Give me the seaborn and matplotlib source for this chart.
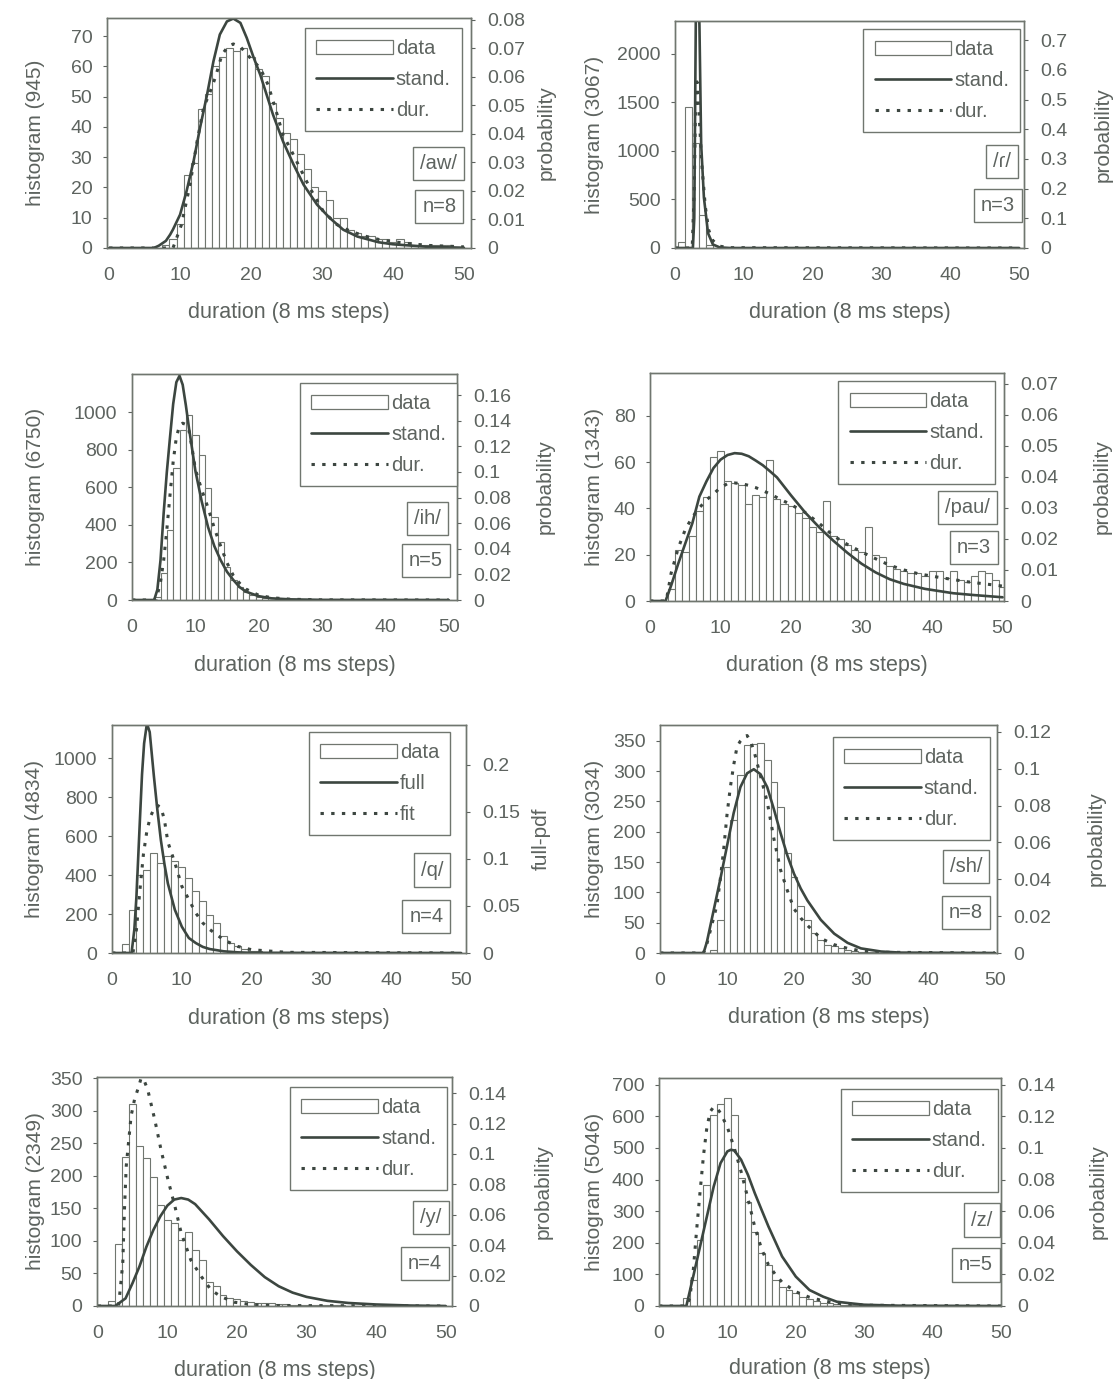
import numpy as np
import matplotlib
matplotlib.use("Agg")
import matplotlib.pyplot as plt
import matplotlib.patches as mpatches
from matplotlib.ticker import FuncFormatter
import seaborn as sns

sns.set_theme(style="white")
plt.rcParams["font.family"] = ["Liberation Sans", "DejaVu Sans"]

TXT = "#5d635f"
EDGE = "#70766f"
LINE = "#3c4640"

durations = np.arange(1, 51)

# ---- /aw/ (945) ----
aw_counts = [0, 0, 0, 0, 0, 0, 0, 1, 3, 8,
             24, 28, 46, 51, 60, 63, 66, 65, 66, 63,
             59, 57, 48, 43, 38, 36, 31, 26, 20, 19,
             16, 10, 10, 6, 5, 4, 4, 3, 3, 2,
             3, 2, 1, 1, 1, 1, 1, 1, 0, 0]
aw_stand_x = [0, 6.3, 7, 8, 8.6, 9, 10, 10.9, 11.9, 12.8, 13.8, 14.7, 15.6, 16.6, 17.5, 18.5,
              19.4, 20.3, 21.3, 22.2, 23.1, 24.5, 26, 27.4, 29.3, 31.1, 33, 35, 38, 40, 45, 50]
aw_stand_y = [0, 0, 0.0008, 0.0025, 0.0047, 0.0065, 0.0117, 0.0198, 0.0304, 0.042, 0.0537,
              0.0654, 0.0748, 0.0794, 0.0804, 0.0789, 0.0736, 0.0672, 0.0607, 0.0537, 0.0467,
              0.0374, 0.0292, 0.0222, 0.0152, 0.0105, 0.0064, 0.004, 0.002, 0.0013, 0.0004,
              0.0001]
aw_dur_x = [0, 9, 10.2, 11.4, 12.4, 13.3, 14.2, 15, 15.9, 16.8, 17.5, 18.5, 19.9, 21.3, 22.4,
            23.4, 24.5, 25.5, 26.9, 28.3, 30.2, 32.1, 33.9, 36, 38, 40, 42, 45, 50]
aw_dur_y = [0, 0, 0.0082, 0.0222, 0.0374, 0.0491, 0.0545, 0.06, 0.0678, 0.0707, 0.0715, 0.0705,
            0.0666, 0.063, 0.0572, 0.0491, 0.0397, 0.035, 0.028, 0.021, 0.0128, 0.0082, 0.006,
            0.0042, 0.003, 0.0022, 0.0016, 0.0009, 0.0004]

# ---- flap (3067) ----
dx_counts = [60, 1450, 1080, 340, 30, 5, 2, 0, 0, 0,
             0, 0, 0, 0, 0, 0, 0, 0, 0, 0,
             0, 0, 0, 0, 0, 0, 0, 0, 0, 0,
             0, 0, 0, 0, 0, 0, 0, 0, 0, 0,
             0, 0, 0, 0, 0, 0, 0, 0, 0, 0]
dx_stand_x = [0, 2.6, 2.8, 3.05, 3.3, 3.55, 3.8, 4.2, 4.8, 5.5, 6.5, 8, 50]
dx_stand_y = [0, 0, 0.1, 0.85, 0.95, 0.75, 0.35, 0.17, 0.05, 0.012, 0.002, 0, 0]
dx_dur_x = [0, 2.5, 2.8, 3.0, 3.2, 3.5, 3.9, 4.4, 4.9, 5.5, 6.5, 8, 50]
dx_dur_y = [0, 0, 0.2, 0.5, 0.56, 0.45, 0.28, 0.14, 0.06, 0.025, 0.006, 0.001, 0]

# ---- /ih/ (6750) ----
ih_counts = [0, 0, 0, 15, 142, 373, 702, 906, 986, 880,
             773, 595, 440, 311, 178, 107, 71, 44, 27, 18,
             12, 9, 6, 5, 4, 3, 2, 2, 1, 1,
             1, 1, 0, 0, 0, 0, 0, 0, 0, 0,
             0, 0, 0, 0, 0, 0, 0, 0, 0, 0]
ih_stand_x = [0, 3.5, 4, 4.5, 5, 5.5, 6, 6.5, 7, 7.5, 8, 8.5, 9, 10, 11, 12, 13, 14, 15, 16,
              17, 18, 20, 22, 25, 30, 50]
ih_stand_y = [0, 0, 0.008, 0.031, 0.068, 0.1, 0.127, 0.153, 0.17, 0.175, 0.168, 0.152, 0.134,
              0.101, 0.077, 0.057, 0.042, 0.031, 0.022, 0.0156, 0.01, 0.0065, 0.003, 0.0013,
              0.0005, 0.0001, 0]
ih_dur_x = [0, 3.8, 4.5, 5, 5.5, 6, 6.5, 7, 7.5, 8, 8.5, 9, 9.5, 10, 11, 12, 13, 14, 15, 16,
            17, 18, 20, 22, 25, 30, 50]
ih_dur_y = [0, 0, 0.014, 0.031, 0.055, 0.082, 0.108, 0.127, 0.136, 0.138, 0.137, 0.132, 0.118,
            0.102, 0.086, 0.072, 0.056, 0.042, 0.029, 0.019, 0.013, 0.0085, 0.0037, 0.0018,
            0.0006, 0.0001, 0]

# ---- /pau/ (1343) ----
pau_counts = [0, 0, 5, 22, 21, 28, 39, 45, 62, 65,
              52, 51, 50, 42, 46, 45, 61, 44, 42, 41,
              38, 36, 32, 30, 43, 28, 27, 24, 22, 21,
              32, 20, 19, 15, 14, 13, 12, 12, 11, 13,
              13, 10, 13, 9, 8, 11, 13, 12, 9, 6]
pau_stand_x = [0, 2.2, 3, 4, 5, 6, 7, 8, 9, 10, 11, 12, 13, 14, 15, 16, 17, 18, 20, 22, 24, 26,
               28, 30, 32, 34, 36, 39, 43, 46, 50]
pau_stand_y = [0, 0, 0.005, 0.012, 0.0185, 0.025, 0.0336, 0.0385, 0.0428, 0.0455, 0.047, 0.0476,
               0.0474, 0.0466, 0.0452, 0.0437, 0.0418, 0.0398, 0.034, 0.0285, 0.0237, 0.0194,
               0.0155, 0.012, 0.0092, 0.007, 0.0055, 0.0039, 0.0025, 0.0019, 0.0012]
pau_dur_x = [0, 2.3, 3, 4, 5, 6, 7, 8, 9, 10, 11, 12, 13, 14, 15, 16, 17, 18, 20, 22, 24, 26,
             28, 30, 32, 34, 36, 38, 41, 45, 50]
pau_dur_y = [0, 0, 0.009, 0.017, 0.023, 0.027, 0.03, 0.0325, 0.0345, 0.0365, 0.0378, 0.038,
             0.0378, 0.0372, 0.0365, 0.0355, 0.0345, 0.0333, 0.031, 0.0285, 0.025, 0.021, 0.0182,
             0.0158, 0.0136, 0.0115, 0.01, 0.0088, 0.0076, 0.0062, 0.0048]

# ---- /q/ (4834) ----
q_counts = [0, 45, 222, 400, 427, 513, 462, 500, 470, 444,
            385, 316, 265, 197, 154, 85, 51, 34, 20, 12,
            9, 6, 5, 4, 3, 2, 2, 1, 1, 1,
            0, 0, 0, 0, 0, 0, 0, 0, 0, 0,
            0, 0, 0, 0, 0, 0, 0, 0, 0, 0]
q_full_x = [0, 2.8, 3.2, 3.5, 4, 4.3, 4.6, 5, 5.4, 6, 6.5, 7, 7.5, 8, 9, 10, 11, 12, 13, 14,
            16, 18, 20, 50]
q_full_y = [0, 0, 0.025, 0.06, 0.142, 0.19, 0.223, 0.244, 0.235, 0.188, 0.152, 0.12, 0.095,
            0.074, 0.046, 0.028, 0.016, 0.0106, 0.0065, 0.0042, 0.0018, 0.0007, 0.0002, 0]
q_fit_x = [0, 3, 3.5, 4, 4.5, 5, 5.5, 6, 6.5, 7, 7.5, 8, 9, 10, 11, 12, 13, 14, 15, 16, 18,
           20, 25, 50]
q_fit_y = [0, 0, 0.025, 0.067, 0.105, 0.13, 0.145, 0.153, 0.157, 0.155, 0.142, 0.118, 0.096,
           0.071, 0.057, 0.0425, 0.032, 0.025, 0.0195, 0.014, 0.007, 0.0035, 0.0007, 0]

# ---- /sh/ (3034) ----
sh_counts = [0, 0, 0, 0, 0, 0, 0, 5, 55, 142,
             219, 293, 343, 345, 346, 318, 282, 241, 165, 126,
             77, 55, 33, 22, 14, 11, 8, 5, 3, 2,
             2, 1, 0, 0, 0, 0, 0, 0, 0, 0,
             0, 0, 0, 0, 0, 0, 0, 0, 0, 0]
sh_stand_x = [0, 6.5, 7, 7.5, 8, 9, 10, 11, 12, 13, 14, 15, 16, 17, 18, 19, 20, 21, 22, 24,
              26, 28, 30, 33, 36, 50]
sh_stand_y = [0, 0, 0.006, 0.0145, 0.023, 0.04, 0.058, 0.076, 0.09, 0.0975, 0.0997, 0.097,
              0.09, 0.078, 0.065, 0.053, 0.043, 0.035, 0.0285, 0.018, 0.0105, 0.0055, 0.0025,
              0.0008, 0.0002, 0]
sh_dur_x = [0, 6.5, 7, 8, 8.5, 9, 9.5, 10, 10.5, 11, 11.5, 12, 12.5, 13, 13.5, 14, 15, 16, 17,
            18, 19, 20, 21, 22, 24, 26, 28, 30, 33, 50]
sh_dur_y = [0, 0, 0.005, 0.019, 0.026, 0.04, 0.056, 0.075, 0.09, 0.102, 0.112, 0.115, 0.117,
            0.118, 0.115, 0.11, 0.096, 0.082, 0.062, 0.045, 0.034, 0.024, 0.019, 0.015, 0.008,
            0.0045, 0.0025, 0.0012, 0.0004, 0]

# ---- /y/ (2349) ----
y_counts = [0, 8, 96, 229, 311, 246, 228, 199, 155, 132,
            127, 101, 114, 86, 71, 37, 30, 17, 12, 10,
            8, 6, 5, 5, 4, 3, 3, 2, 2, 2,
            1, 1, 1, 1, 1, 0, 0, 0, 0, 0,
            0, 0, 0, 0, 0, 0, 0, 0, 0, 0]
y_stand_x = [0, 2.5, 4, 5, 6, 7, 8, 9, 10, 11, 12, 13, 14, 15, 16, 18, 20, 22, 24, 26, 28,
             30, 33, 36, 40, 45, 50]
y_stand_y = [0, 0, 0.005, 0.015, 0.026, 0.039, 0.05, 0.059, 0.066, 0.07, 0.071, 0.07, 0.067,
             0.062, 0.057, 0.046, 0.036, 0.027, 0.019, 0.013, 0.0088, 0.006, 0.0034, 0.002,
             0.001, 0.0003, 0]
y_dur_x = [0, 3, 3.6, 3.85, 4.1, 4.8, 5.3, 5.8, 6.25, 6.7, 7.2, 8.2, 9.1, 10.1, 11.1, 12, 13.4,
           14.9, 16.3, 17.7, 19.6, 22, 25, 50]
y_dur_y = [0, 0, 0.028, 0.064, 0.092, 0.125, 0.136, 0.143, 0.15, 0.148, 0.142, 0.1225, 0.1027,
           0.083, 0.0654, 0.048, 0.03, 0.0193, 0.0105, 0.0062, 0.0025, 0.001, 0.0003, 0]

# ---- /z/ (5046) ----
z_counts = [0, 0, 2, 24, 82, 209, 383, 605, 640, 658,
            605, 404, 330, 235, 167, 130, 82, 61, 51, 40,
            30, 21, 17, 11, 8, 6, 4, 3, 2, 2,
            1, 0, 0, 0, 0, 0, 0, 0, 0, 0,
            0, 0, 0, 0, 0, 0, 0, 0, 0, 0]
z_stand_x = [0, 4, 5, 6, 7, 8, 9, 10, 10.5, 11, 12, 13, 14, 15, 16, 18, 20, 22, 24, 26, 28,
             30, 35, 50]
z_stand_y = [0, 0, 0.0186, 0.0376, 0.0566, 0.0756, 0.0904, 0.0978, 0.0988, 0.0984, 0.0925,
             0.083, 0.0714, 0.0608, 0.0503, 0.0313, 0.0186, 0.0101, 0.0059, 0.0027, 0.0017,
             0.0008, 0.0002, 0]
z_dur_x = [0, 4, 4.5, 5, 5.5, 6, 6.5, 7, 7.5, 8, 8.5, 9, 10, 11, 12, 13, 14, 15, 16, 17, 18,
           20, 22, 24, 26, 30, 50]
z_dur_y = [0, 0, 0.005, 0.022, 0.048, 0.072, 0.095, 0.113, 0.123, 0.126, 0.125, 0.122, 0.113,
           0.1, 0.085, 0.068, 0.05, 0.036, 0.026, 0.02, 0.015, 0.009, 0.0055, 0.0033, 0.0018,
           0.0005, 0]

# data + text per panel
panels = [
    (aw_counts, aw_stand_x, aw_stand_y, aw_dur_x, aw_dur_y, "histogram (945)", "probability",
     ["data", "stand.", "dur."], "/aw/", "n=8"),
    (dx_counts, dx_stand_x, dx_stand_y, dx_dur_x, dx_dur_y, "histogram (3067)", "probability",
     ["data", "stand.", "dur."], "/ɾ/", "n=3"),
    (ih_counts, ih_stand_x, ih_stand_y, ih_dur_x, ih_dur_y, "histogram (6750)", "probability",
     ["data", "stand.", "dur."], "/ih/", "n=5"),
    (pau_counts, pau_stand_x, pau_stand_y, pau_dur_x, pau_dur_y, "histogram (1343)", "probability",
     ["data", "stand.", "dur."], "/pau/", "n=3"),
    (q_counts, q_full_x, q_full_y, q_fit_x, q_fit_y, "histogram (4834)", "full-pdf",
     ["data", "full", "fit"], "/q/", "n=4"),
    (sh_counts, sh_stand_x, sh_stand_y, sh_dur_x, sh_dur_y, "histogram (3034)", "probability",
     ["data", "stand.", "dur."], "/sh/", "n=8"),
    (y_counts, y_stand_x, y_stand_y, y_dur_x, y_dur_y, "histogram (2349)", "probability",
     ["data", "stand.", "dur."], "/y/", "n=4"),
    (z_counts, z_stand_x, z_stand_y, z_dur_x, z_dur_y, "histogram (5046)", "probability",
     ["data", "stand.", "dur."], "/z/", "n=5"),
]

# layout: frame in pixels (l, t, r, b), xlim, left top, right top, left step/max,
# right step/max, ylabel x (left, right), xlabel y, legend anchor, phone box, n box
layout = [
    ((107, 18, 471, 248), (-0.3, 51), 76, 0.0806, 10, 70, 0.01, 0.08, -0.170, 1.181, -0.235,
     (0.975, 0.957), (0.911, 0.367), (0.913, 0.180)),
    ((675, 21, 1024, 248), (0, 50.7), 2340, 0.765, 500, 2000, 0.1, 0.7, -0.203, 1.20, -0.238,
     (0.989, 0.965), (0.937, 0.381), (0.925, 0.189)),
    ((132, 374, 457, 600), (0, 51.3), 1204, 0.1764, 200, 1000, 0.02, 0.16, -0.268, 1.243, -0.243,
     (1.0, 0.96), (0.909, 0.361), (0.905, 0.173)),
    ((650, 373, 1004, 601), (0, 50.2), 98.5, 0.0734, 20, 80, 0.01, 0.07, -0.130, 1.251, -0.237,
     (0.975, 0.965), (0.897, 0.412), (0.915, 0.235)),
    ((112, 725, 466, 953), (0, 50.7), 1171, 0.2425, 200, 1000, 0.05, 0.2, -0.191, 1.185, -0.241,
     (0.956, 0.969), (0.904, 0.364), (0.888, 0.162)),
    ((660, 725, 997, 953), (0, 50.3), 376, 0.1237, 50, 350, 0.02, 0.12, -0.166, 1.267, -0.237,
     (0.979, 0.947), (0.908, 0.379), (0.908, 0.176)),
    ((97, 1077, 452, 1306), (-0.1, 50.9), 352, 0.1506, 50, 350, 0.02, 0.14, -0.146, 1.231, -0.236,
     (0.986, 0.956), (0.941, 0.386), (0.924, 0.186)),
    ((659, 1078, 1001, 1306), (0, 50), 721, 0.1442, 100, 700, 0.02, 0.14, -0.161, 1.257, -0.228,
     (0.991, 0.952), (0.944, 0.377), (0.927, 0.180)),
]

W, H = 1115, 1379
fig = plt.figure(figsize=(W / 100, H / 100), dpi=100)
fmt = FuncFormatter(lambda v, p: f"{round(v, 4):g}")

for (counts, sx, sy, dx, dy, ylab, rlab, leg, phone, nlab), lay in zip(panels, layout):
    (l, t, r, b), xlim, ctop, ptop, cstep, cmax, pstep, pmax, ylx, yrx, xly, legxy, phxy, nxy = lay
    ax = fig.add_axes([l / W, 1 - b / H, (r - l) / W, (b - t) / H])
    sns.histplot(x=durations, weights=counts, discrete=True, ax=ax, color="white",
                 edgecolor=EDGE, linewidth=0.8, alpha=1)
    ax.set_xlim(*xlim)
    ax.set_ylim(0, ctop)
    ax.set_xticks([0, 10, 20, 30, 40, 50])
    ax.set_yticks(np.arange(0, cmax + cstep / 2, cstep))
    ax.set_xlabel("duration (8 ms steps)", fontsize=15.5, color=TXT)
    ax.set_ylabel(ylab, fontsize=15, color=TXT)
    ax.xaxis.set_label_coords(0.5, xly)
    ax.yaxis.set_label_coords(ylx, 0.5)
    ax.tick_params(axis="x", labelsize=14, colors=TXT, length=0, pad=14)
    ax.tick_params(axis="y", labelsize=14, colors=TXT, length=3, width=0.8, pad=7.5,
                   direction="out", left=True)

    ax2 = ax.twinx()
    sns.lineplot(x=sx, y=sy, ax=ax2, color=LINE, lw=1.9, estimator=None, sort=False)
    sns.lineplot(x=dx, y=dy, ax=ax2, color=LINE, lw=2.2, estimator=None, sort=False,
                 linestyle=(0, (1.1, 2.4)))
    ax2.set_ylim(0, ptop)
    ax2.set_yticks(np.arange(0, pmax + pstep / 2, pstep))
    ax2.yaxis.set_major_formatter(fmt)
    ax2.set_ylabel(rlab, fontsize=15, color=TXT)
    ax2.yaxis.set_label_coords(yrx, 0.5)
    ax2.tick_params(axis="y", labelsize=14, colors=TXT, length=3, width=0.8, pad=8.5,
                    direction="out", right=True)
    for a in (ax, ax2):
        for s in a.spines.values():
            s.set_color(EDGE)
            s.set_linewidth(1.0)

    handles = [mpatches.Patch(facecolor="white", edgecolor=EDGE, linewidth=0.9),
               ax2.lines[0], ax2.lines[1]]
    lg = ax2.legend(handles, leg, loc="upper right", bbox_to_anchor=legxy, borderaxespad=0,
                    fontsize=14.5, handlelength=3.8, handletextpad=0.15, labelspacing=0.6,
                    borderpad=0.55, frameon=True, fancybox=False, framealpha=1,
                    edgecolor=EDGE)
    lg.get_frame().set_linewidth(1.0)
    for tx in lg.get_texts():
        tx.set_color(TXT)
    for (bx, by), s in ((phxy, phone), (nxy, nlab)):
        ax2.text(bx, by, s, transform=ax2.transAxes, ha="center", va="center",
                 fontsize=14.5, color=TXT,
                 bbox=dict(boxstyle="square,pad=0.35", fc="white", ec=EDGE, lw=1.0))

fig.savefig("out.png", dpi=100)
